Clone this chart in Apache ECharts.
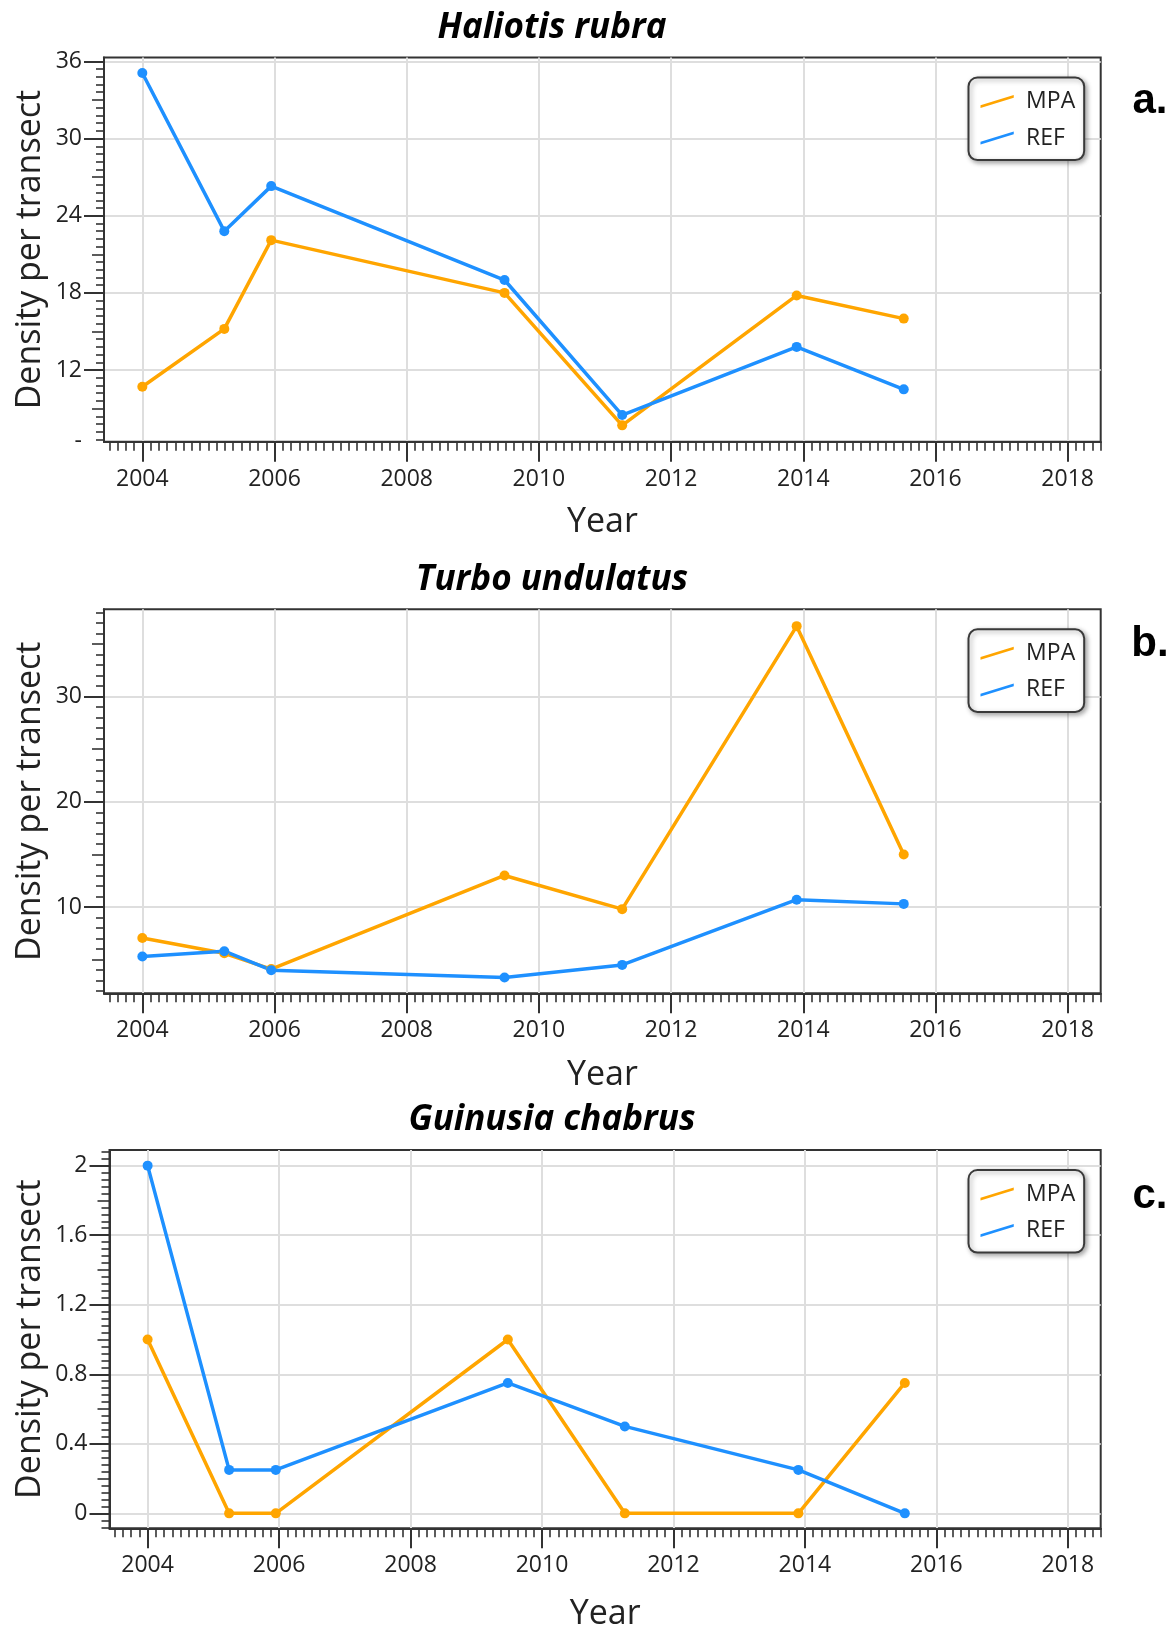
<!DOCTYPE html>
<html>
<head>
<meta charset="utf-8">
<script src="https://cdn.jsdelivr.net/npm/echarts@6/dist/echarts.min.js"></script>
<style>
html,body{margin:0;padding:0;background:#fff;}
#chart{width:1176px;height:1629px;}
</style>
</head>
<body>
<div id="chart"></div>
<script>
// ---------- data ----------
const surveyYears = [2004.0, 2005.24, 2005.95, 2009.48, 2011.26, 2013.9, 2015.52];

const titles = ['Haliotis rubra', 'Turbo undulatus', 'Guinusia chabrus'];
const panelLetters = ['a.', 'b.', 'c.'];
const seriesNames = ['MPA', 'REF'];

const haliotisMPA = [10.7, 15.2, 22.1, 18.0, 7.7, 17.8, 16.0];
const haliotisREF = [35.1, 22.8, 26.3, 19.0, 8.5, 13.8, 10.5];
const turboMPA = [7.05, 5.6, 4.1, 13.0, 9.8, 36.7, 15.0];
const turboREF = [5.3, 5.8, 4.0, 3.3, 4.5, 10.7, 10.3];
const guinusiaMPA = [1, 0, 0, 1, 0, 0, 0.75];
const guinusiaREF = [2, 0.25, 0.25, 0.75, 0.5, 0.25, 0];

const xTickLabels = [2004, 2006, 2008, 2010, 2012, 2014, 2016, 2018];
const yTicksA = [12, 18, 24, 30, 36];
const yTicksB = [10, 20, 30];
const yTicksC = [0, 0.4, 0.8, 1.2, 1.6, 2];

const xRange = [2003.42, 2018.5];
const yRangeA = [6.43, 36.3];
const yRangeB = [1.8, 38.3];
const yRangeC = [-0.086, 2.09];

// ---------- styling / layout ----------
const FONT = '"Open Sans", "Noto Sans", sans-serif';
const ORANGE = '#FFA500';
const BLUE = '#1E90FF';
const AXIS_COLOR = '#333333';
const GRID_COLOR = '#dedede';
const TEXT_COLOR = '#222222';

const panels = [
  { mpa: haliotisMPA, ref: haliotisREF, yRange: yRangeA, yTicks: yTicksA, yStep: 6,
    grid: { left: 104, top: 57.5, width: 996.7, height: 384.2 }, titleY: 28, letterY: 101,
    yNameGap: 57, xNameGap: 64, bottomDash: true },
  { mpa: turboMPA, ref: turboREF, yRange: yRangeB, yTicks: yTicksB, yStep: 10,
    grid: { left: 104, top: 609.3, width: 996.7, height: 384 }, titleY: 580, letterY: 644.5,
    yNameGap: 57, xNameGap: 65, bottomDash: false },
  { mpa: guinusiaMPA, ref: guinusiaREF, yRange: yRangeC, yTicks: yTicksC, yStep: 0.4,
    grid: { left: 109.5, top: 1150, width: 991.2, height: 378.3 }, titleY: 1120, letterY: 1196,
    yNameGap: 62, xNameGap: 69, bottomDash: false }
];

// decorative tick positions (not data)
function stepValues(lo, hi, step, exclude) {
  const out = [];
  const s = Math.ceil(lo / step - 1e-9), e = Math.floor(hi / step + 1e-9);
  for (let k = s; k <= e; k++) {
    const v = +(k * step).toFixed(6);
    if (v < lo - 1e-9 || v > hi + 1e-9) continue;
    if (exclude.some(x => Math.abs(x - v) < 1e-6)) continue;
    out.push(v);
  }
  return out;
}

const grids = [], xAxes = [], yAxes = [], series = [], legends = [], graphics = [];

panels.forEach((p, i) => {
  grids.push(Object.assign({ show: true, borderColor: AXIS_COLOR, borderWidth: 2,
    backgroundColor: 'transparent', outerBoundsMode: 'none', containLabel: false }, p.grid));

  const xMajor = stepValues(xRange[0], xRange[1], 2, []);
  const xMinor = stepValues(xRange[0], xRange[1], 0.125, xMajor);
  const tickStyle = { color: AXIS_COLOR, width: 2 };

  // main x axis
  xAxes.push({
    type: 'value', gridIndex: i, min: xRange[0], max: xRange[1], position: 'bottom',
    axisLine: { show: true, onZero: false, lineStyle: { color: AXIS_COLOR, width: 2 } },
    axisTick: { show: true, customValues: xTickLabels, length: 20, lineStyle: tickStyle },
    axisLabel: { show: true, customValues: xTickLabels, margin: 26, fontSize: 23,
      fontFamily: FONT, color: TEXT_COLOR, formatter: v => String(v) },
    splitLine: { show: true, lineStyle: { color: GRID_COLOR, width: 2 } },
    name: 'Year', nameLocation: 'middle', nameGap: p.xNameGap, nameMoveOverlap: false,
    nameTextStyle: { fontSize: 34, fontFamily: FONT, color: TEXT_COLOR }
  });
  // minor x ticks
  xAxes.push({
    type: 'value', gridIndex: i, min: xRange[0], max: xRange[1], position: 'bottom',
    axisLine: { show: false, onZero: false },
    axisTick: { show: true, customValues: xMinor, length: 9, lineStyle: { color: AXIS_COLOR, width: 1.6 } },
    axisLabel: { show: false }, splitLine: { show: false }
  });

  const yr = p.yRange;
  const yMajor = stepValues(yr[0], yr[1], p.yStep, []);
  const yMedium = stepValues(yr[0], yr[1], p.yStep / 2, yMajor);
  const yMinor = stepValues(yr[0], yr[1], p.yStep / 10, yMajor.concat(yMedium));
  const labelValues = p.bottomDash ? [yr[0]].concat(p.yTicks) : p.yTicks;

  yAxes.push({
    type: 'value', gridIndex: i, min: yr[0], max: yr[1], position: 'left',
    axisLine: { show: true, onZero: false, lineStyle: { color: AXIS_COLOR, width: 2 } },
    axisTick: { show: true, customValues: p.yTicks, length: 20, lineStyle: tickStyle },
    axisLabel: { show: true, customValues: labelValues, margin: 22, fontSize: 23,
      fontFamily: FONT, color: TEXT_COLOR,
      formatter: v => (p.bottomDash && Math.abs(v - yr[0]) < 1e-6) ? '-' : String(v) },
    splitLine: { show: true, lineStyle: { color: GRID_COLOR, width: 2 } },
    name: 'Density per transect', nameLocation: 'middle', nameGap: p.yNameGap, nameMoveOverlap: false,
    nameTextStyle: { fontSize: 34, fontFamily: FONT, color: TEXT_COLOR }
  });
  yAxes.push({
    type: 'value', gridIndex: i, min: yr[0], max: yr[1], position: 'left',
    axisLine: { show: false, onZero: false },
    axisTick: { show: true, customValues: yMedium, length: 12, lineStyle: { color: AXIS_COLOR, width: 1.6 } },
    axisLabel: { show: false }, splitLine: { show: false }
  });
  yAxes.push({
    type: 'value', gridIndex: i, min: yr[0], max: yr[1], position: 'left',
    axisLine: { show: false, onZero: false },
    axisTick: { show: true, customValues: yMinor, length: 8, lineStyle: { color: AXIS_COLOR, width: 1.6 } },
    axisLabel: { show: false }, splitLine: { show: false }
  });

  [[seriesNames[0], p.mpa, ORANGE], [seriesNames[1], p.ref, BLUE]].forEach(([name, vals, color]) => {
    series.push({
      type: 'line', name: name, xAxisIndex: i * 2, yAxisIndex: i * 3,
      data: surveyYears.map((x, k) => [x, vals[k]]),
      symbol: 'circle', symbolSize: 10, showSymbol: true,
      lineStyle: { width: 3.5, color: color }, itemStyle: { color: color },
      emphasis: { disabled: true }, z: 3
    });
  });

  legends.push({
    show: true, orient: 'vertical', left: 968.5, top: p.grid.top + 20,
    data: seriesNames, selectedMode: false,
    icon: 'path://M0,10.5 L34,0 L34,2.8 L0,13.3 Z',
    itemWidth: 34, itemHeight: 13, itemGap: 12.6,
    padding: [12, 9, 10, 12],
    backgroundColor: '#ffffff', borderColor: '#3a3a3a', borderWidth: 2, borderRadius: 9,
    shadowColor: 'rgba(0,0,0,0.35)', shadowBlur: 5, shadowOffsetX: 2, shadowOffsetY: 2,
    textStyle: { fontSize: 23, fontFamily: FONT, color: TEXT_COLOR, lineHeight: 24, padding: [0, 0, 0, 7] }
  });

  graphics.push({
    type: 'text', x: 552, y: p.titleY, silent: true,
    style: { text: titles[i], align: 'center', verticalAlign: 'middle',
      font: 'italic bold 35px ' + FONT, fill: '#000000' }
  });
  graphics.push({
    type: 'text', x: 1150, y: p.letterY, silent: true,
    style: { text: panelLetters[i], align: 'center', verticalAlign: 'middle',
      font: 'bold 42px "Liberation Sans", Arial, sans-serif', fill: '#000000' }
  });
});

const chart = echarts.init(document.getElementById('chart'), null, { renderer: 'canvas' });
chart.setOption({
  backgroundColor: '#ffffff',
  animation: false,
  grid: grids,
  xAxis: xAxes,
  yAxis: yAxes,
  legend: legends,
  series: series,
  graphic: graphics
});
</script>
</body>
</html>
